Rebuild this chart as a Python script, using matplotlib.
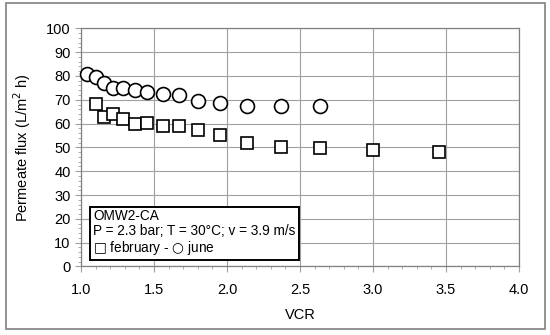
import numpy as np
import matplotlib.pyplot as plt
from matplotlib.patches import Rectangle
from matplotlib.ticker import MultipleLocator

plt.rcParams['font.family'] = ['Liberation Sans', 'DejaVu Sans']

# june (circles)
vcr_jun = [1.04, 1.10, 1.16, 1.22, 1.29, 1.37, 1.45, 1.56, 1.67, 1.80, 1.95, 2.14, 2.37, 2.64]
flux_jun = [80.8, 79.6, 77.1, 75.0, 74.8, 74.1, 73.4, 72.3, 72.0, 69.5, 68.7, 67.4, 67.4, 67.4]

# february (squares)
vcr_feb = [1.10, 1.16, 1.22, 1.29, 1.37, 1.45, 1.56, 1.67, 1.80, 1.95, 2.14, 2.37, 2.64, 3.00, 3.45]
flux_feb = [68.2, 62.6, 63.9, 61.8, 59.7, 60.1, 58.8, 58.9, 57.1, 55.0, 51.8, 50.1, 49.6, 48.9, 48.2]

fig = plt.figure(figsize=(5.5, 3.35), dpi=100)
ax = fig.add_axes([0.1473, 0.2045, 0.7963, 0.711])

# outer chart border
fig.patches.append(Rectangle((6/550, 1-329/335), 539/550, 326/335, transform=fig.transFigure,
                             fill=False, edgecolor='#808080', linewidth=1.2))

ax.plot(vcr_jun, flux_jun, 'o', ms=10, mfc='white', mec='black', mew=1.2, zorder=3, clip_on=False)
ax.plot(vcr_feb, flux_feb, 's', ms=9, mfc='white', mec='black', mew=1.2, zorder=3, clip_on=False)

ax.set_xlim(1.0, 4.0)
ax.set_ylim(0, 100)
ax.xaxis.set_major_locator(MultipleLocator(0.5))
ax.xaxis.set_minor_locator(MultipleLocator(0.1))
ax.yaxis.set_major_locator(MultipleLocator(10))
ax.yaxis.set_minor_locator(MultipleLocator(2))
ax.xaxis.set_major_formatter(plt.FormatStrFormatter('%.1f'))

ax.grid(True, which='major', color='#a0a0a0', linewidth=0.8)
ax.set_axisbelow(True)
for s in ax.spines.values():
    s.set_color('#808080')
    s.set_linewidth(0.9)

ax.tick_params(which='both', direction='out', color='#a0a0a0', labelsize=10.5)
ax.tick_params(which='major', length=4)
ax.tick_params(which='minor', length=2.5)
ax.tick_params(axis='x', pad=8)

ax.set_xlabel('VCR', fontsize=10.5, labelpad=8)
ax.set_ylabel('Permeate flux (L/m$^2$ h)', fontsize=10.5, labelpad=9)

# legend box as text
ax.text(0.028, 0.243, 'OMW2-CA\nP = 2.3 bar; T = 30°C; v = 3.9 m/s\n$\u25a1$ february - $\u25cb$ june',
        transform=ax.transAxes, fontsize=9.8, va='top', ha='left', linespacing=1.1,
        bbox=dict(boxstyle='square,pad=0.25', fc='white', ec='black', lw=1.4))

fig.savefig('out.png', dpi=100)
